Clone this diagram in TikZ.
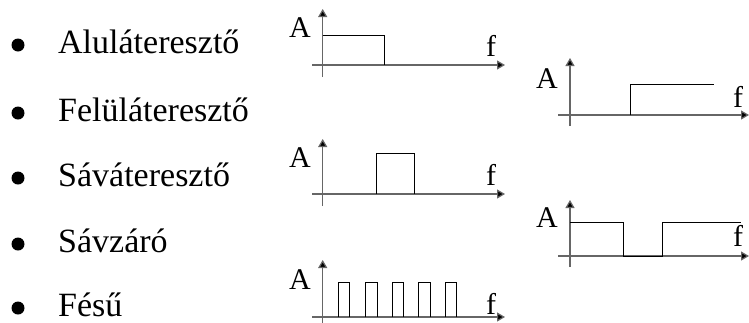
\documentclass[tikz,border=0pt]{standalone}
\usepackage{fontspec}
\setmainfont{Liberation Serif}
\usetikzlibrary{arrows.meta}
\tikzset{
  item/.style={anchor=base west, inner sep=0pt, font=\fontsize{34}{40}\selectfont},
  bul/.style={circle, fill=black, inner sep=0pt, minimum size=13pt},
  lab/.style={inner sep=0pt, font=\fontsize{30}{36}\selectfont},
  axis/.style={draw=black!60, line width=1.2pt, -{Triangle[length=8pt,width=9pt,fill=black]}},
  sig/.style={draw=black, line width=1pt},
}
\begin{document}
\begin{tikzpicture}[x=1pt,y=-1pt]
\useasboundingbox (0,0) rectangle (749,322);
% list
\foreach \n/\t/\yb in {1/Aluláteresztő/53, 2/Felüláteresztő/121, 3/Sáváteresztő/186, 4/Sávzáró/252, 5/Fésű/316}{
  \node[bul] (b\n) at (18,\yb-8) {};
  \node[item] (t\n) at (58,\yb) {\t};
}
% graph 1: low-pass
\draw[axis] (322.7,77) -- (322.7,9);
\draw[axis] (312,65) -- (505,65);
\draw[sig] (322.7,35) -- (384,35) -- (384,65);
\node[lab, anchor=base east] (a1) at (311,37) {A};
\node[lab, anchor=base] (f1) at (491,56) {f};
% graph 2: high-pass
\draw[axis] (570,126) -- (570,58);
\draw[axis] (558,115) -- (749,115);
\draw[sig] (630,115) -- (630,84) -- (714,84);
\node[lab, anchor=base east] (a2) at (558,88) {A};
\node[lab, anchor=base] (f2) at (738,107) {f};
% graph 3: band-pass
\draw[axis] (322.7,206) -- (322.7,139);
\draw[axis] (312,194) -- (505,194);
\draw[sig] (376,194) -- (376,153) -- (414,153) -- (414,194);
\node[lab, anchor=base east] (a3) at (311,167) {A};
\node[lab, anchor=base] (f3) at (491,185) {f};
% graph 4: band-stop
\draw[axis] (570,267) -- (570,200);
\draw[axis] (558,256) -- (749,256);
\draw[sig] (570,222) -- (623,222) -- (623,256) -- (662,256) -- (662,222) -- (741,222);
\node[lab, anchor=base east] (a4) at (558,227) {A};
\node[lab, anchor=base] (f4) at (738,246) {f};
% graph 5: comb
\draw[axis] (322.7,323) -- (322.7,260);
\draw[axis] (312,317) -- (505,317);
\foreach \xa/\xb in {338/349, 365/377, 392/403, 418/430, 445/456}{
  \draw[sig] (\xa,317) -- (\xa,282) -- (\xb,282) -- (\xb,317);
}
\node[lab, anchor=base east] (a5) at (311,289) {A};
\node[lab, anchor=base] (f5) at (491,314) {f};
\end{tikzpicture}
\end{document}
